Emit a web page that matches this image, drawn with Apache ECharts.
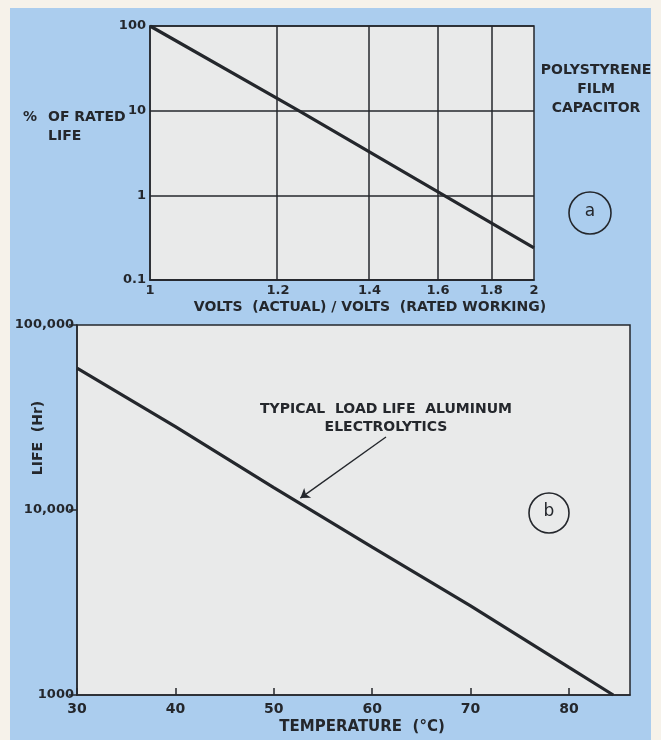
<!DOCTYPE html>
<html><head><meta charset="utf-8">
<script src="https://cdn.jsdelivr.net/npm/echarts@6/dist/echarts.min.js"></script>
<style>html,body{margin:0;padding:0;background:#f6f2ea;}#c{width:661px;height:740px;}</style>
</head><body><div id="c"></div>
<script>
// ---- Panel (a): polystyrene film capacitor (line read at its ends and where it crosses 10 %) ----
const voltsRatio = [1, 1.24, 2];
const ratedLifePct = [100, 10, 0.24];
const voltsTicks = [1, 1.2, 1.4, 1.6, 1.8, 2];

// ---- Panel (b): aluminum electrolytics ----
const tempC = [30, 40, 50, 60, 70, 80, 84.5];
const lifeHr = [58400, 28200, 13200, 6300, 3030, 1410, 1000];
const tempTicks = [30, 40, 50, 60, 70, 80];
const arrowFrom = [61.4, 24800];
const arrowTo = [52.7, 11600];

// reciprocal-type voltage scale used by the original figure
const voltToAxis = v => 2 - 2 / v;
const axisToVolt = u => 2 / (2 - u);

const INK = '#24272c';
const FONT = 'DejaVu Sans';
const txt = (extra) => Object.assign({fill: INK, fontFamily: FONT, fontSize: 14, fontWeight: 'bold'}, extra);
const tick = {color: INK, fontFamily: FONT, fontSize: 13, fontWeight: 'bold'};

const chart = echarts.init(document.getElementById('c'));
const option = {
  backgroundColor: '#abcdee',
  animation: false,
  textStyle: {fontFamily: FONT, color: INK},
  graphic: [
    {type: 'rect', shape: {x: 0, y: 0, width: 661, height: 8}, style: {fill: '#f6f2ea'}, silent: true},
    {type: 'rect', shape: {x: 0, y: 0, width: 10, height: 740}, style: {fill: '#f6f2ea'}, silent: true},
    {type: 'rect', shape: {x: 651, y: 0, width: 10, height: 740}, style: {fill: '#f6f2ea'}, silent: true},
    {type: 'text', x: 23, y: 117, style: txt({text: '%', verticalAlign: 'middle'})},
    {type: 'text', x: 48, y: 108, style: txt({text: 'OF RATED\nLIFE', lineHeight: 19, verticalAlign: 'top', align: 'left'})},
    {type: 'text', x: 596, y: 61, style: txt({text: 'POLYSTYRENE\nFILM\nCAPACITOR', lineHeight: 19, align: 'center', verticalAlign: 'top'})},
    {type: 'circle', shape: {cx: 590, cy: 213, r: 21}, style: {fill: 'none', stroke: INK, lineWidth: 1.6}},
    {type: 'text', x: 590, y: 212, style: txt({text: 'a', align: 'center', verticalAlign: 'middle', fontSize: 17, fontWeight: 'normal'})},
    {type: 'text', x: 370, y: 307, style: txt({text: 'VOLTS  (ACTUAL) / VOLTS  (RATED WORKING)', align: 'center', verticalAlign: 'middle'})},
    {type: 'text', x: 362, y: 727, style: txt({text: 'TEMPERATURE  (°C)', align: 'center', verticalAlign: 'middle', fontSize: 15})},
    {type: 'text', x: 38, y: 438, rotation: Math.PI / 2, style: txt({text: 'LIFE  (Hr)', align: 'center', verticalAlign: 'middle'})},
    {type: 'text', x: 386, y: 400, style: txt({text: 'TYPICAL  LOAD LIFE  ALUMINUM\nELECTROLYTICS', lineHeight: 18, align: 'center', verticalAlign: 'top'})},
    {type: 'circle', shape: {cx: 549, cy: 513, r: 20}, style: {fill: 'none', stroke: INK, lineWidth: 1.6}},
    {type: 'text', x: 549, y: 512, style: txt({text: 'b', align: 'center', verticalAlign: 'middle', fontSize: 17, fontWeight: 'normal'})}
  ],
  grid: [
    {left: 150, top: 26, width: 384, height: 254, show: true, backgroundColor: '#e9eaea', borderColor: INK, borderWidth: 1.5},
    {left: 77, top: 325, width: 553, height: 370, show: true, backgroundColor: '#e9eaea', borderColor: INK, borderWidth: 1.5}
  ],
  xAxis: [
    {
      type: 'value', gridIndex: 0, min: 0, max: 1,
      axisLine: {show: true, lineStyle: {color: INK, width: 1.5}},
      axisTick: {show: false},
      splitLine: {show: false},
      axisLabel: Object.assign({
        customValues: voltsTicks.map(voltToAxis),
        formatter: u => { const v = Math.round(axisToVolt(u) * 10) / 10; return Number.isInteger(v) ? String(v) : v.toFixed(1); },
        margin: 4
      }, tick)
    },
    {
      type: 'value', gridIndex: 1, min: 30, max: 86.2, interval: 10,
      axisLine: {show: true, lineStyle: {color: INK, width: 1.5}},
      axisTick: {show: true, inside: true, length: 7, customValues: tempTicks, lineStyle: {color: INK, width: 1.5}},
      splitLine: {show: false},
      axisLabel: Object.assign({customValues: tempTicks, margin: 7}, tick, {fontSize: 14})
    }
  ],
  yAxis: [
    {
      type: 'log', gridIndex: 0, min: 0.1, max: 100, logBase: 10,
      axisLine: {show: true, lineStyle: {color: INK, width: 1.5}},
      axisTick: {show: false},
      splitLine: {show: true, lineStyle: {color: INK, width: 1.5}},
      axisLabel: Object.assign({formatter: v => (v < 1 ? '0.1' : String(Math.round(v))), margin: 4}, tick)
    },
    {
      type: 'log', gridIndex: 1, min: 1000, max: 100000, logBase: 10,
      axisLine: {show: true, lineStyle: {color: INK, width: 1.5}},
      axisTick: {show: true, length: 8, lineStyle: {color: INK, width: 1.5}},
      splitLine: {show: false},
      axisLabel: Object.assign({formatter: v => { const r = Math.round(v); return r >= 10000 ? r.toLocaleString('en-US') : String(r); }, margin: 3}, tick)
    }
  ],
  series: [
    {
      type: 'line', xAxisIndex: 0, yAxisIndex: 0, symbol: 'none',
      lineStyle: {color: INK, width: 3.2},
      data: voltsRatio.map((v, i) => [voltToAxis(v), ratedLifePct[i]]),
      markLine: {
        silent: true, symbol: 'none', label: {show: false},
        lineStyle: {color: INK, width: 1.5, type: 'solid'},
        data: voltsTicks.slice(1, -1).map(v => ({xAxis: voltToAxis(v)}))
      }
    },
    {
      type: 'line', xAxisIndex: 1, yAxisIndex: 1, symbol: 'none',
      lineStyle: {color: INK, width: 3.2},
      data: tempC.map((t, i) => [t, lifeHr[i]]),
      markLine: {
        silent: true, symbol: ['none', 'arrow'], symbolSize: 9, label: {show: false},
        lineStyle: {color: INK, width: 1.4, type: 'solid'},
        data: [[{coord: arrowFrom}, {coord: arrowTo}]]
      }
    }
  ]
};
chart.setOption(option);
</script></body></html>
